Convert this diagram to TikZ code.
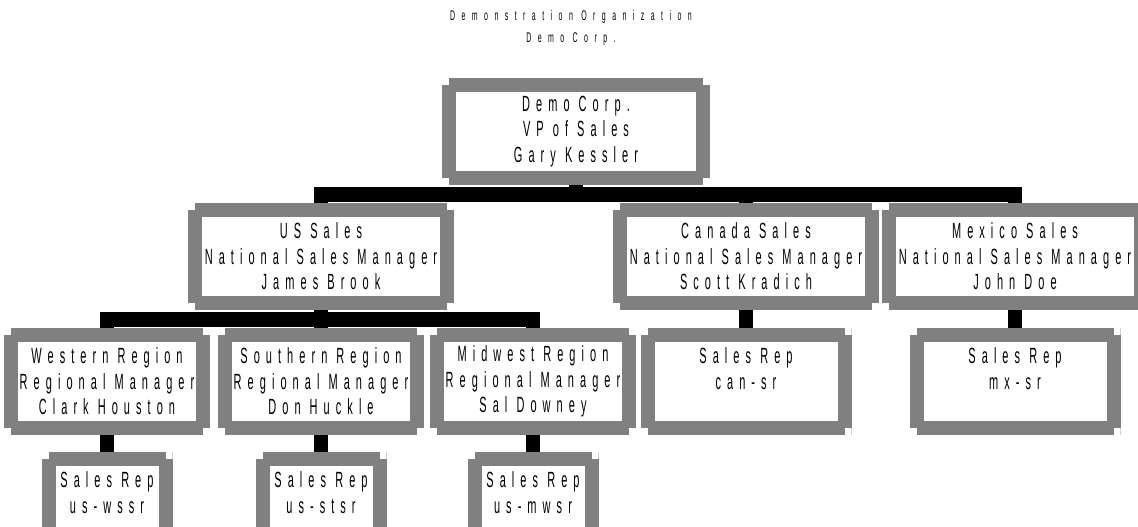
\documentclass[tikz,border=0pt]{standalone}
\usepackage{fontspec}
\setmainfont{Liberation Sans}
\newfontfamily\boxfont[FakeStretch=0.5,LetterSpace=27.5]{Liberation Sans}
\newfontfamily\headfont[FakeStretch=0.5,LetterSpace=46]{Liberation Sans}
\usetikzlibrary{calc}
\definecolor{boxgray}{RGB}{128,128,128}
\newcommand{\rim}{14pt}
\newcommand{\notch}{7pt}
\tikzset{
  orgbox/.style  = {rectangle, fill=boxgray, inner sep=0pt, align=center,
                    minimum height=107pt, font=\boxfont\fontsize{22}{25.5}\selectfont,
                    path picture={
                      \fill[white] ([shift={(\rim,\rim)}]path picture bounding box.south west)
                        rectangle ([shift={(-\rim,-\rim)}]path picture bounding box.north east);
                      \fill[white] (path picture bounding box.south west) rectangle ++(\notch,\notch);
                      \fill[white] (path picture bounding box.south east) rectangle ++(-\notch,\notch);
                      \fill[white] (path picture bounding box.north west) rectangle ++(\notch,-\notch);
                      \fill[white] (path picture bounding box.north east) rectangle ++(-\notch,-\notch);
                    }},
  headbox/.style = {orgbox, minimum width=266pt},
  regbox/.style  = {orgbox, minimum width=206pt},
  repbox/.style  = {orgbox, minimum width=211pt},
  usrep/.style   = {orgbox, minimum width=131pt},
  orglink/.style = {black, line width=14.5pt}
}

\begin{document}
\begin{tikzpicture}[x=1pt,y=-1pt]
  \useasboundingbox (0,0) rectangle (1138,527);
  \clip (0,0) rectangle (1138,527);
  \node[font=\headfont\fontsize{14}{22.5}\selectfont, align=center] (title) at (571,28)
        {Demonstration Organization\\Demo Corp.};

  \node[headbox, minimum width=268pt] (ceo) at (576,131.5) {Demo Corp.\\VP of Sales\\Gary Kessler};
  \node[headbox] (us)  at (321,256.5)  {US Sales\\National Sales Manager\\James Brook};
  \node[headbox] (can) at (746,256.5)  {Canada Sales\\National Sales Manager\\Scott Kradich};
  \node[headbox] (mex) at (1015,256.5) {Mexico Sales\\National Sales Manager\\John Doe};

  \node[regbox] (west)  at (107,381.5) {Western Region\\Regional Manager\\Clark Houston};
  \node[regbox] (south) at (321,381.5) {Southern Region\\Regional Manager\\Don Huckle};
  \node[regbox] (mid)   at (533,381.5) {Midwest Region\\Regional Manager\\Sal Downey};
  \node[repbox] (canrep) at (746,381.5)  {Sales Rep\\can-sr\\\mbox{}};
  \node[repbox] (mexrep) at (1015,381.5) {Sales Rep\\mx-sr\\\mbox{}};

  \node[usrep] (westrep)  at (107,505.5) {Sales Rep\\us-wssr\\\mbox{}};
  \node[usrep] (southrep) at (321,505.5) {Sales Rep\\us-stsr\\\mbox{}};
  \node[usrep] (midrep)   at (533,505.5) {Sales Rep\\us-mwsr\\\mbox{}};

  \coordinate (ceobus) at (576,194.5);
  \coordinate (usbus)  at (321,319.5);
  \foreach \kid in {us,can,mex}
    { \draw[orglink] (ceo.south) -- (ceobus) -| (\kid.north); }
  \foreach \kid in {west,south,mid}
    { \draw[orglink] (us.south) -- (usbus) -| (\kid.north); }
  \draw[orglink] (can.south) -- (canrep.north);
  \draw[orglink] (mex.south) -- (mexrep.north);
  \draw[orglink] (west.south) -- (westrep.north);
  \draw[orglink] (south.south) -- (southrep.north);
  \draw[orglink] (mid.south) -- (midrep.north);
\end{tikzpicture}
\end{document}
